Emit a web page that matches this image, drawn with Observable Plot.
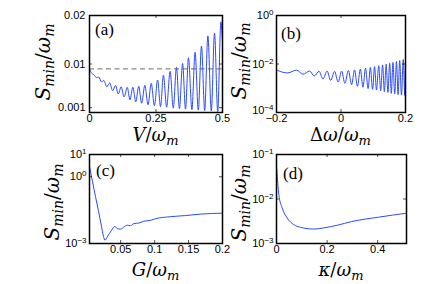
<!DOCTYPE html>
<html><head><meta charset="utf-8">
<script src="https://cdn.jsdelivr.net/npm/d3@7"></script>
<script src="https://cdn.jsdelivr.net/npm/@observablehq/plot@0.6"></script>
<style>
html,body{margin:0;padding:0;background:#fff;}
#fig{position:relative;width:436px;height:284px;overflow:hidden;background:#fff;}
#fig > svg{position:absolute;overflow:visible;}
.ylab{position:absolute;white-space:nowrap;font-family:'DejaVu Serif','Liberation Serif',serif;font-size:20px;line-height:20px;color:#000;transform:translate(-50%,-50%) rotate(-90deg);}
.ylab i{font-style:italic;}
.ylab sub{font-size:14px;line-height:0;vertical-align:-4px;font-style:italic;}
</style></head><body><div id="fig"></div>
<script>
// ---- Panel (a): S_min vs V ----
const aV = [0, 0.008, 0.016, 0.026, 0.035, 0.045, 0.054, 0.065, 0.076, 0.087, 0.098, 0.108, 0.119, 0.130, 0.142, 0.152, 0.163, 0.174, 0.185, 0.196, 0.208, 0.220, 0.232, 0.244, 0.256, 0.267, 0.278, 0.290, 0.303, 0.315, 0.327, 0.338, 0.350, 0.361, 0.372, 0.385, 0.397, 0.409, 0.421, 0.433, 0.445, 0.458, 0.470, 0.482, 0.494, 0.5];
const aS = [0.0090, 0.0081, 0.0078, 0.0072, 0.0073, 0.0063, 0.0066, 0.0053, 0.0061, 0.0045, 0.0056, 0.0038, 0.0053, 0.0032, 0.0052, 0.0026, 0.0052, 0.0022, 0.0054, 0.0019, 0.0056, 0.0016, 0.0060, 0.0014, 0.0067, 0.0012, 0.0077, 0.0011, 0.0085, 0.0009, 0.0093, 0.0008, 0.0101, 0.0007, 0.0113, 0.0006, 0.0124, 0.0005, 0.0137, 0.0004, 0.0158, 0.0003, 0.0164, 0.0002, 0.0187, 0.0147];
const aDash = 0.009;
const aXTicks = [0, 0.25, 0.5];
const aXLabels = ["0", "0.25", "0.5"];
const aYTicks = [0.001, 0.01, 0.02];
const aYLabels = ["0.001", "0.01", "0.02"];

// ---- Panel (b): S_min vs Δω ----
const bD = [-0.200, -0.190, -0.165, -0.138, -0.118, -0.097, -0.083, -0.068, -0.056, -0.043, -0.032, -0.020, -0.009, 0.002, 0.012, 0.023, 0.033, 0.042, 0.051, 0.060, 0.068, 0.076, 0.084, 0.091, 0.098, 0.104, 0.110, 0.117, 0.123, 0.129, 0.1345, 0.140, 0.1455, 0.151, 0.156, 0.161, 0.1665, 0.172, 0.177, 0.182, 0.1875, 0.193, 0.198, 0.200];
const bS = [0.0057, 0.0050, 0.0043, 0.0056, 0.0038, 0.0051, 0.0032, 0.0050, 0.0024, 0.0051, 0.0021, 0.0050, 0.0018, 0.0051, 0.0016, 0.0054, 0.0014, 0.0057, 0.0012, 0.0062, 0.0011, 0.0067, 0.00097, 0.0072, 0.0009, 0.0078, 0.00084, 0.0085, 0.00078, 0.0092, 0.00072, 0.0099, 0.00067, 0.0107, 0.00062, 0.0116, 0.00058, 0.0126, 0.00055, 0.0138, 0.00052, 0.0152, 0.0005, 0.0100];
const bXTicks = [-0.2, 0, 0.2];
const bXLabels = ["\u22120.2", "0", "0.2"];
const bYTicks = [1e-4, 1e-2, 1];
const bYLabels = ["10^\u22124", "10^\u22122", "10^0"];

// ---- Panel (c): S_min vs G ----
const cG = [0.004, 0.0084, 0.0128, 0.0173, 0.0217, 0.0246, 0.0268, 0.0298, 0.0364, 0.0413, 0.0448, 0.0497, 0.0546, 0.0596, 0.0644, 0.0693, 0.0767, 0.084, 0.094, 0.1013, 0.123, 0.1455, 0.1676, 0.2];
const cS = [2.9, 0.61, 0.13, 0.028, 0.0059, 0.0021, 0.0014, 0.0019, 0.0039, 0.0059, 0.0047, 0.0044, 0.0055, 0.0066, 0.0063, 0.0078, 0.0083, 0.010, 0.011, 0.013, 0.016, 0.018, 0.021, 0.023];
const cXTicks = [0.05, 0.1, 0.15, 0.2];
const cXLabels = ["0.05", "0.1", "0.15", "0.2"];
const cYTicks = [1e-3, 1, 10];
const cYLabels = ["10^\u22123", "10^0", "10^1"];

// ---- Panel (d): S_min vs κ ----
const dK = [0.001, 0.009, 0.0225, 0.042, 0.068, 0.095, 0.121, 0.147, 0.187, 0.24, 0.297, 0.403, 0.514];
const dS = [0.047, 0.0128, 0.0063, 0.00376, 0.00266, 0.00231, 0.00216, 0.00211, 0.00224, 0.00257, 0.00311, 0.0039, 0.0048];
const dXTicks = [0, 0.2, 0.4];
const dXLabels = ["0", "0.2", "0.4"];
const dYTicks = [1e-3, 1e-2, 1e-1];
const dYLabels = ["10^\u22123", "10^\u22122", "10^\u22121"];

const panels = [
  {left: 0, top: 0, width: 230, height: 142, ml: 89, mr: 8, mt: 15, mb: 30,
   xs: aV, ys: aS, dash: aDash, xDomain: [0, 0.5], yType: "linear", yDomain: [0, 0.02],
   xTicks: aXTicks, xLabels: aXLabels, yTicks: aYTicks, yLabels: aYLabels, yPad: 4, xPad: 2,
   tag: "(a)", tagX: 95, tagY: 35, xName: [["V", "italic"], ["/", "normal"], ["\u03c9", "italic"]], xLab: 141, yLabX: 43, yLabY: 62},
  {left: 218, top: 0, width: 218, height: 142, ml: 58, mr: 31, mt: 15, mb: 30,
   xs: bD, ys: bS, dash: null, xDomain: [-0.2, 0.2], yType: "log", yDomain: [1e-4, 1],
   xTicks: bXTicks, xLabels: bXLabels, yTicks: bYTicks, yLabels: bYLabels, yPad: 3, xPad: 2,
   tag: "(b)", tagX: 281, tagY: 39, xName: [["\u0394", "normal"], ["\u03c9", "italic"], ["/", "normal"], ["\u03c9", "italic"]], xLab: 141, yLabX: 239, yLabY: 61},
  {left: 0, top: 142, width: 230, height: 142, ml: 89, mr: 8, mt: 12, mb: 41,
   xs: cG, ys: cS, dash: null, xDomain: [0.004, 0.2], yType: "log", yDomain: [1e-3, 10],
   xTicks: cXTicks, xLabels: cXLabels, yTicks: cYTicks, yLabels: cYLabels, yPad: 3, xPad: 2,
   tag: "(c)", tagX: 96, tagY: 176, xName: [["G", "italic"], ["/", "normal"], ["\u03c9", "italic"]], xLab: 276, yLabX: 52, yLabY: 202},
  {left: 218, top: 142, width: 218, height: 142, ml: 58, mr: 30, mt: 12, mb: 41,
   xs: dK, ys: dS, dash: null, xDomain: [0, 0.514], yType: "log", yDomain: [1e-3, 1e-1],
   xTicks: dXTicks, xLabels: dXLabels, yTicks: dYTicks, yLabels: dYLabels, yPad: 3, xPad: 2,
   tag: "(d)", tagX: 283, tagY: 179, xName: [["\u03ba", "italic"], ["/", "normal"], ["\u03c9", "italic"]], xLab: 276, yLabX: 239, yLabY: 203}
];

const fig = document.getElementById("fig");
const MATH = "'DejaVu Serif', 'Liberation Serif', serif";

for (const p of panels) {
  const fw = p.width - p.ml - p.mr, fh = p.height - p.mt - p.mb;
  const data = p.xs.map((x, i) => ({x, y: p.ys[i]}));
  const marks = [];
  if (p.dash != null) marks.push(Plot.ruleY([p.dash], {stroke: "#888", strokeWidth: 1.4, strokeDasharray: "5,3.5"}));
  marks.push(Plot.line(data, {x: "x", y: "y", stroke: "#2a4bff", strokeWidth: 1, curve: "monotone-x", clip: true}));
  marks.push(Plot.tickX(p.xTicks, {x: d => d, insetTop: fh - 3, stroke: "#000", strokeWidth: 0.7}));
  marks.push(Plot.tickX(p.xTicks, {x: d => d, insetBottom: fh - 3, stroke: "#000", strokeWidth: 0.7}));
  marks.push(Plot.tickY(p.yTicks, {y: d => d, insetRight: fw - 3, stroke: "#000", strokeWidth: 0.7}));
  marks.push(Plot.tickY(p.yTicks, {y: d => d, insetLeft: fw - 3, stroke: "#000", strokeWidth: 0.7}));
  marks.push(Plot.frame({stroke: "#000", strokeWidth: 1.5}));
  marks.push(Plot.axisX(p.xTicks, {tickSize: 0, tickPadding: p.xPad, label: null,
    tickFormat: d => p.xLabels[p.xTicks.indexOf(d)]}));
  marks.push(Plot.axisY(p.yTicks, {tickSize: 0, tickPadding: p.yPad, label: null,
    tickFormat: d => p.yLabels[p.yTicks.indexOf(d)]}));
  const svg = Plot.plot({
    width: p.width, height: p.height,
    marginLeft: p.ml, marginRight: p.mr, marginTop: p.mt, marginBottom: p.mb,
    x: {domain: p.xDomain},
    y: {type: p.yType, domain: p.yDomain},
    style: {fontFamily: "'Liberation Sans', Arial, sans-serif", fontSize: "11px", background: "none", color: "#000", overflow: "visible"},
    marks
  });
  svg.style.left = p.left + "px";
  svg.style.top = p.top + "px";
  const s = d3.select(svg);
  const bottomLabel = p.yLabels[0];
  // superscript exponents for log labels
  s.selectAll("text").each(function() {
    const t = this.textContent;
    if (t.includes("^")) {
      const [base, ex] = t.split("^");
      const el = d3.select(this);
      el.text(null);
      if (t === bottomLabel && p.tag === "(b)") el.attr("dy", "-0.15em");
      el.append("tspan").text(base);
      el.append("tspan").attr("dy", "-0.5em").attr("font-size", "8px").text(ex);
    }
  });
  // panel tag
  s.append("text").attr("x", p.tagX - p.left).attr("y", p.tagY - p.top)
    .attr("text-anchor", "start")
    .attr("font-family", "'Liberation Serif', 'Times New Roman', serif").attr("font-size", "17px")
    .attr("fill", "#000").text(p.tag);
  // x label
  const xt = s.append("text").attr("x", p.ml + fw / 2).attr("y", p.xLab - p.top)
    .attr("text-anchor", "middle").attr("font-family", MATH).attr("font-size", "18px").attr("fill", "#000");
  for (const [str, st] of p.xName) xt.append("tspan").attr("font-style", st).text(str);
  xt.append("tspan").attr("font-style", "italic").attr("font-size", "13px").attr("dy", 4).text("m");
  fig.appendChild(svg);
  // y label (HTML, rotated)
  const yl = document.createElement("div");
  yl.className = "ylab";
  yl.style.left = p.yLabX + "px";
  yl.style.top = p.yLabY + "px";
  yl.innerHTML = "<i>S</i><sub>min</sub>/<i>\u03c9</i><sub>m</sub>";
  fig.appendChild(yl);
}
</script>
</body></html>
